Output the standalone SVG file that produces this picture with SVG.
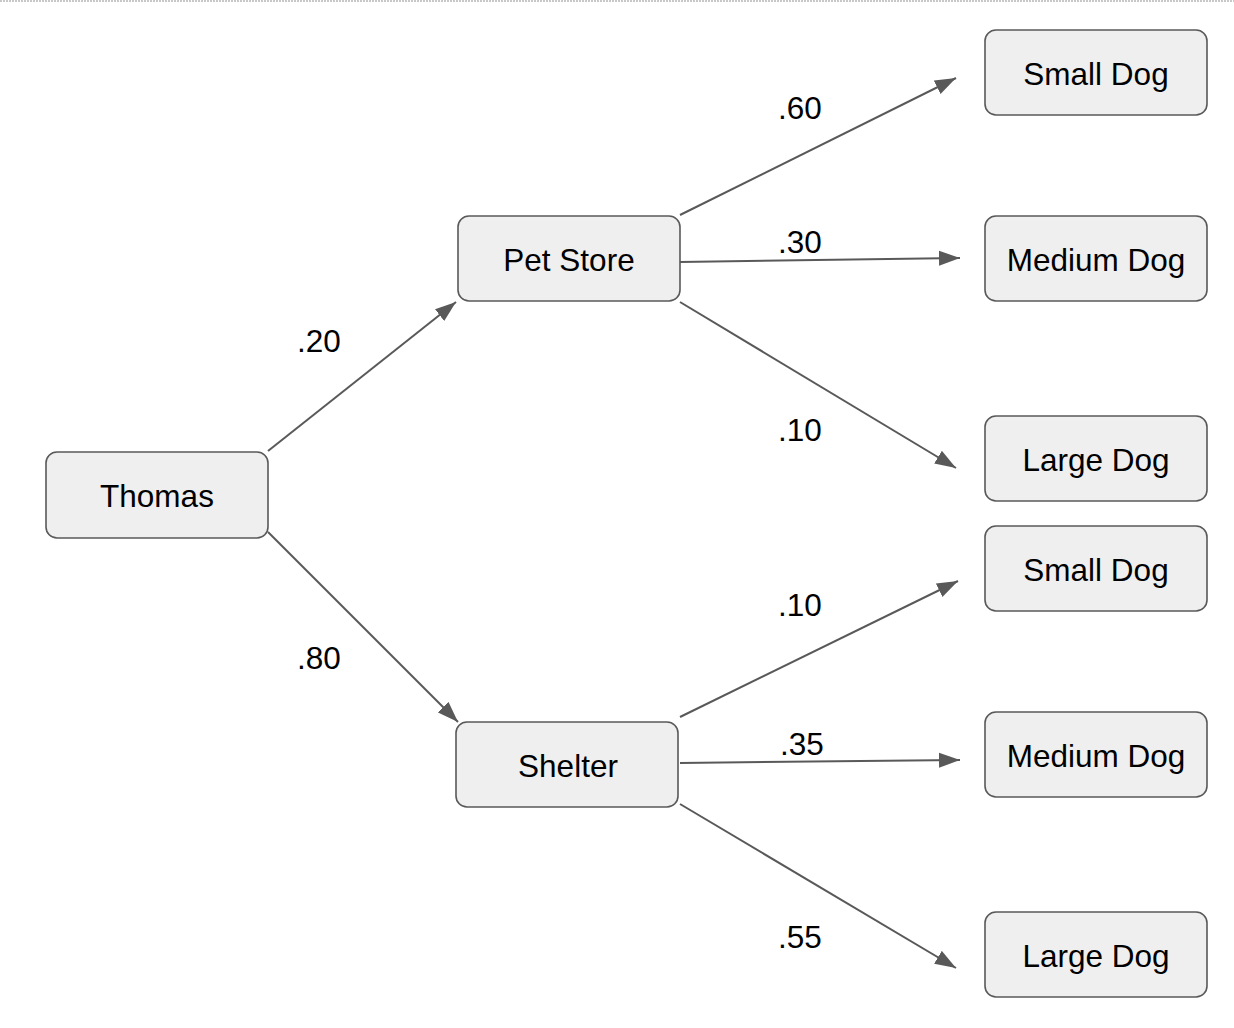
<svg xmlns="http://www.w3.org/2000/svg" width="1234" height="1028" viewBox="0 0 1234 1028">
<style>
.node rect{fill:#efefef;stroke:#595959;stroke-width:1.6}
text{font-family:"Liberation Sans",Arial,sans-serif;font-size:31.5px;fill:#000}
.node text{text-anchor:middle}
.lbl{text-anchor:middle}
.edge{stroke:#595959;stroke-width:2;fill:none;marker-end:url(#arr)}
</style>
<defs>
<marker id="arr" markerUnits="userSpaceOnUse" markerWidth="23" markerHeight="16" refX="21" refY="7.5" orient="auto" viewBox="0 0 23 15">
<path d="M0,0 L21,7.5 L0,15 Z" fill="#595959"/>
</marker>
</defs>
<rect x="0" y="0" width="1234" height="1028" fill="#fff"/>
<line x1="0" y1="1" x2="1234" y2="1" stroke="#c8c8c8" stroke-width="2" stroke-dasharray="2,1"/>
<g id="connectors">
<line class="edge" x1="268" y1="451" x2="456" y2="302"/>
<line class="edge" x1="268" y1="532" x2="458" y2="722"/>
<line class="edge" x1="680" y1="215" x2="956" y2="78"/>
<line class="edge" x1="680" y1="262" x2="960" y2="258"/>
<line class="edge" x1="680" y1="302" x2="956" y2="468"/>
<line class="edge" x1="680" y1="717" x2="958" y2="581"/>
<line class="edge" x1="680" y1="763" x2="960" y2="760"/>
<line class="edge" x1="680" y1="804" x2="956" y2="968"/>
<text class="lbl" x="319" y="352">.20</text>
<text class="lbl" x="319" y="669">.80</text>
<text class="lbl" x="800" y="119">.60</text>
<text class="lbl" x="800" y="253">.30</text>
<text class="lbl" x="800" y="441">.10</text>
<text class="lbl" x="800" y="616">.10</text>
<text class="lbl" x="802" y="755">.35</text>
<text class="lbl" x="800" y="948">.55</text>
</g>
<g id="thomas" class="node"><rect x="46" y="452" width="222" height="86" rx="11"/><text x="157" y="507">Thomas</text></g>
<g id="petstore" class="node"><rect x="458" y="216" width="222" height="85" rx="11"/><text x="569" y="271">Pet Store</text></g>
<g id="shelter" class="node"><rect x="456" y="722" width="222" height="85" rx="11"/><text x="568" y="777">Shelter</text></g>
<g id="small1" class="node"><rect x="985" y="30" width="222" height="85" rx="11"/><text x="1096" y="85">Small Dog</text></g>
<g id="medium1" class="node"><rect x="985" y="216" width="222" height="85" rx="11"/><text x="1096" y="271">Medium Dog</text></g>
<g id="large1" class="node"><rect x="985" y="416" width="222" height="85" rx="11"/><text x="1096" y="471">Large Dog</text></g>
<g id="small2" class="node"><rect x="985" y="526" width="222" height="85" rx="11"/><text x="1096" y="581">Small Dog</text></g>
<g id="medium2" class="node"><rect x="985" y="712" width="222" height="85" rx="11"/><text x="1096" y="767">Medium Dog</text></g>
<g id="large2" class="node"><rect x="985" y="912" width="222" height="85" rx="11"/><text x="1096" y="967">Large Dog</text></g>
</svg>
